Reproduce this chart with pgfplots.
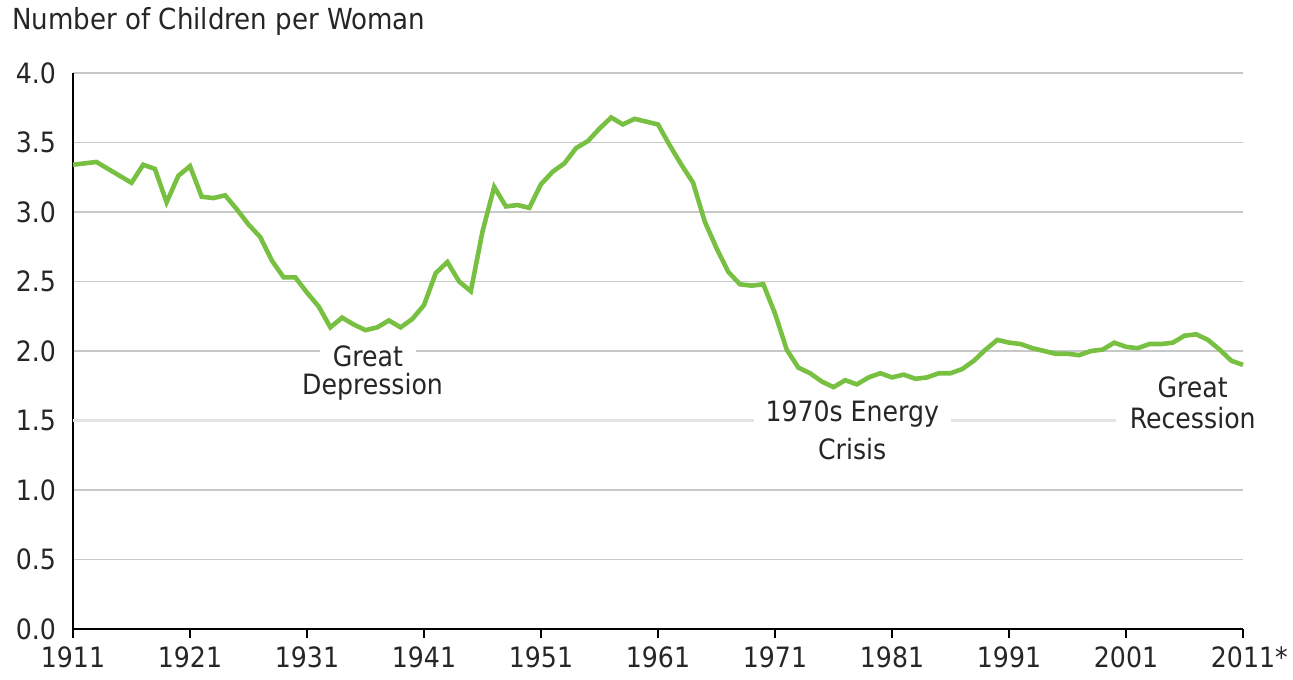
\documentclass[border=0pt]{standalone}
\usepackage{pgfplots}
\pgfplotsset{compat=1.18}
\usepackage{fontspec}
\setmainfont{DejaVu Sans Condensed}
\definecolor{linegreen}{RGB}{120,192,66}
\definecolor{gridgray}{RGB}{200,200,200}
\begin{document}
\begin{tikzpicture}
\path[use as bounding box] (-36.5pt,-25pt) rectangle (610pt,314.5pt);
\begin{axis}[
  at={(0pt,0pt)}, anchor=south west,
  scale only axis, width=585pt, height=278pt,
  xmin=1911, xmax=2011, ymin=0, ymax=4,
  axis lines*=left,
  axis line style={black, line width=0.8pt},
  clip=false,
  xtick={1911,1921,1931,1941,1951,1961,1971,1981,1991,2001,2011},
  xticklabels={1911,1921,1931,1941,1951,1961,1971,1981,1991,2001,2011\rlap{*}},
  ytick={0,0.5,1,2,2.5,3,3.5,4},
  extra y ticks={1.5},
  extra y tick style={grid style={gray!22, line width=1.4pt}},
  y tick label style={/pgf/number format/fixed, /pgf/number format/fixed zerofill, /pgf/number format/precision=1},
  extra y tick labels={1.5},
  ymajorgrids,
  grid style={gridgray, line width=0.8pt},
  tick align=outside,
  major tick length=4.5pt,
  xtick style={black, line width=0.8pt},
  ytick style={draw=none},
  /pgf/number format/assume math mode=true,
  tick label style={font=\fontsize{14}{16}\selectfont, text=black!85},
  yticklabel style={xshift=-0.5pt},
  xticklabel style={yshift=-1pt},
]
\addplot[linegreen, line width=2.3pt] coordinates {
(1911,3.34)(1912,3.35)(1913,3.36)(1914,3.31)(1915,3.26)(1916,3.21)(1917,3.34)(1918,3.31)(1919,3.07)(1920,3.26)
(1921,3.33)(1922,3.11)(1923,3.10)(1924,3.12)(1925,3.02)(1926,2.91)(1927,2.82)(1928,2.65)(1929,2.53)(1930,2.53)
(1931,2.42)(1932,2.32)(1933,2.17)(1934,2.24)(1935,2.19)(1936,2.15)(1937,2.17)(1938,2.22)(1939,2.17)(1940,2.23)
(1941,2.33)(1942,2.56)(1943,2.64)(1944,2.50)(1945,2.43)(1946,2.86)(1947,3.18)(1948,3.04)(1949,3.05)(1950,3.03)
(1951,3.20)(1952,3.29)(1953,3.35)(1954,3.46)(1955,3.51)(1956,3.60)(1957,3.68)(1958,3.63)(1959,3.67)(1960,3.65)
(1961,3.63)(1962,3.48)(1963,3.34)(1964,3.21)(1965,2.93)(1966,2.74)(1967,2.57)(1968,2.48)(1969,2.47)(1970,2.48)
(1971,2.27)(1972,2.01)(1973,1.88)(1974,1.84)(1975,1.78)(1976,1.74)(1977,1.79)(1978,1.76)(1979,1.81)(1980,1.84)
(1981,1.81)(1982,1.83)(1983,1.80)(1984,1.81)(1985,1.84)(1986,1.84)(1987,1.87)(1988,1.93)(1989,2.01)(1990,2.08)
(1991,2.06)(1992,2.05)(1993,2.02)(1994,2.00)(1995,1.98)(1996,1.98)(1997,1.97)(1998,2.00)(1999,2.01)(2000,2.06)
(2001,2.03)(2002,2.02)(2003,2.05)(2004,2.05)(2005,2.06)(2006,2.11)(2007,2.12)(2008,2.08)(2009,2.01)(2010,1.93)
(2011,1.90)
};
\begin{scope}[every node/.style={font=\fontsize{14}{16}\selectfont, text=black!85, inner ysep=1pt}]
\node[fill=white, inner xsep=6.5pt] at (axis cs:1936.2,1.964) {Great};
\node at (axis cs:1936.6,1.741) {Depression};
\node[fill=white, inner xsep=6pt] at (axis cs:1977.6,1.547) {1970s Energy};
\node at (axis cs:1977.6,1.295) {Crisis};
\node at (axis cs:2006.7,1.741) {Great};
\node[fill=white, inner xsep=7pt] at (axis cs:2006.7,1.518) {Recession};
\end{scope}
\end{axis}
\node[anchor=west, inner sep=0pt, font=\fontsize{14.5}{17}\selectfont, text=black!85] at (-30.5pt,303.5pt) {Number of Children per Woman};
\end{tikzpicture}
\end{document}
